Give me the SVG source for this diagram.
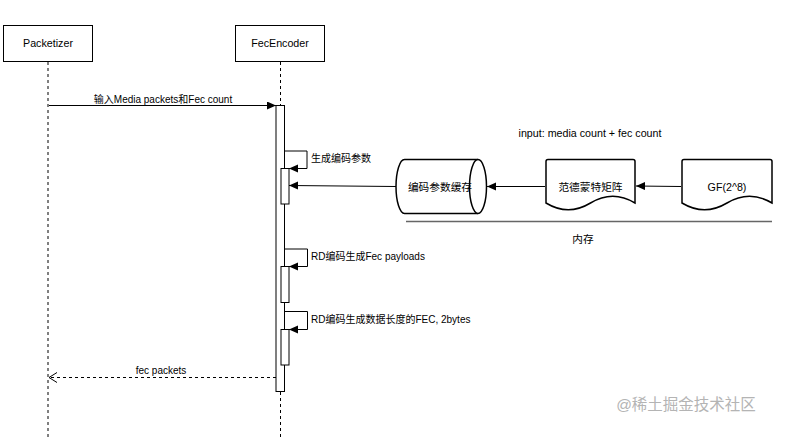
<svg xmlns="http://www.w3.org/2000/svg" width="786" height="437" viewBox="0 0 786 437">
<style>
text{font-family:"Liberation Sans","Noto Sans CJK SC",sans-serif;font-size:10px;fill:#000}
.c{text-anchor:middle}
.lbl{font-size:10.7px}
.box{fill:#fff;stroke:#000;stroke-width:1}
.bar{fill:#fff;stroke:#000;stroke-width:1}
.life{stroke:#000;stroke-width:1;stroke-dasharray:3 3;fill:none}
.ln{stroke:#000;stroke-width:1;fill:none}
.sh{fill:#fff;stroke:#000;stroke-width:1.5}
</style>
<defs>
<marker id="blk" markerWidth="10" markerHeight="10" refX="9" refY="4" orient="auto" markerUnits="userSpaceOnUse">
<path d="M0,0 L9,4 L0,8 Z" fill="#000"/>
</marker>
<marker id="open" markerWidth="12" markerHeight="12" refX="8" refY="5" orient="auto" markerUnits="userSpaceOnUse">
<path d="M0,0 L8,5 L0,10" fill="none" stroke="#000" stroke-width="1"/>
</marker>
</defs>
<rect width="786" height="437" fill="#fff"/>

<g id="packetizer">
<line class="life" x1="48" y1="62" x2="48" y2="437" stroke-dasharray="2 2"/>
<rect class="box" x="3.5" y="25.5" width="89" height="36"/>
<text class="c lbl" x="48" y="47">Packetizer</text>
</g>

<g id="fecencoder">
<line class="life" x1="280.5" y1="62" x2="280.5" y2="437"/>
<rect class="box" x="235.5" y="25.5" width="89" height="36"/>
<text class="c lbl" x="280" y="47">FecEncoder</text>
<rect class="bar" x="276" y="105.5" width="8.5" height="286"/>
<rect class="bar" x="281" y="168.5" width="8" height="35.5"/>
<rect class="bar" x="281" y="266.5" width="8" height="36"/>
<rect class="bar" x="281" y="329.5" width="8" height="35.5"/>
</g>

<g id="cache">
<path class="sh" d="M404.5,159.5 L478,159.5 A8.5,27 0 0 1 478,213.5 L404.5,213.5 A8.5,27 0 0 1 404.5,159.5 Z"/>
<path class="sh" d="M478,159.5 A8.5,27 0 0 0 478,213.5" fill="none"/>
<text class="c lbl" x="440" y="190.5">编码参数缓存</text>
</g>

<g id="vandermonde">
<path class="sh" d="M546,161.5 Q546,159.5 548,159.5 L633,159.5 Q635,159.5 635,161.5 L635,203 Q612.75,189.5 590.5,203 Q568.25,216.5 546,203 Z"/>
<text class="c lbl" x="590.5" y="190.5">范德蒙特矩阵</text>
</g>

<g id="gf">
<path class="sh" d="M682,161.5 Q682,159.5 684,159.5 L770,159.5 Q772,159.5 772,161.5 L772,203 Q749.5,189.5 727,203 Q704.5,216.5 682,203 Z"/>
<text class="c lbl" x="727" y="190.5">GF(2^8)</text>
</g>

<g id="memory">
<line x1="406" y1="221.5" x2="772" y2="221.5" stroke="#666" stroke-width="1.5"/>
<text class="c lbl" x="583" y="243">内存</text>
<text class="c lbl" x="590" y="137">input: media count + fec count</text>
</g>

<g id="connectors">
<line class="ln" x1="49" y1="105.5" x2="276" y2="105.5" marker-end="url(#blk)"/>
<text class="c" x="163" y="102.5">输入Media packets和Fec count</text>

<path class="ln" d="M284.5,151 L307,151 L307,168.5 L289,168.5" marker-end="url(#blk)"/>
<text x="311" y="161.5">生成编码参数</text>

<line class="ln" x1="396" y1="186.5" x2="289" y2="185.5" marker-end="url(#blk)"/>
<line class="ln" x1="545" y1="186.5" x2="487" y2="186.5" marker-end="url(#blk)"/>
<line class="ln" x1="681" y1="186.5" x2="636" y2="186" marker-end="url(#blk)"/>

<path class="ln" d="M284.5,249 L307.5,249 L307.5,266.5 L289,266.5" marker-end="url(#blk)"/>
<text x="311" y="260">RD编码生成Fec payloads</text>

<path class="ln" d="M284.5,311.5 L307.5,311.5 L307.5,329.5 L289,329.5" marker-end="url(#blk)"/>
<text x="311" y="322.5">RD编码生成数据长度的FEC, 2bytes</text>

<line class="ln" x1="276" y1="377.5" x2="49" y2="377.5" stroke-dasharray="3 3" marker-end="url(#open)"/>
<text class="c" x="161" y="373.5">fec packets</text>
</g>

<text x="686" y="409.5" class="c" style="font-size:15.5px;fill:#b4b4b4">@稀土掘金技术社区</text>
</svg>
